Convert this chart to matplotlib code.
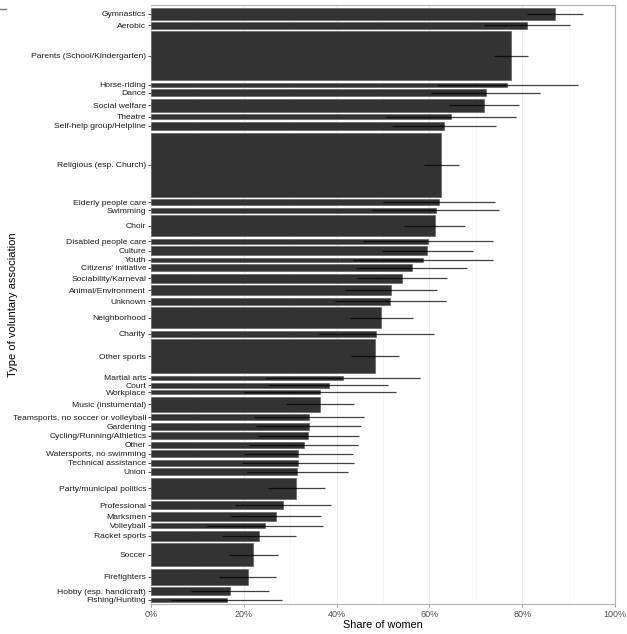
import numpy as np
import matplotlib
matplotlib.use('Agg')
import matplotlib.pyplot as plt
from matplotlib.lines import Line2D
from matplotlib.ticker import MultipleLocator, FuncFormatter

plt.rcParams['font.family'] = ['Liberation Sans', 'DejaVu Sans']

# categories from top to bottom
categories = [
    'Gymnastics', 'Aerobic', 'Parents (School/Kindergarten)', 'Horse-riding', 'Dance',
    'Social welfare', 'Theatre', 'Self-help group/Helpline', 'Religious (esp. Church)',
    'Elderly people care', 'Swimming', 'Choir', 'Disabled people care', 'Culture', 'Youth',
    "Citizens' initiative", 'Sociability/Karneval', 'Animal/Environment', 'Unknown',
    'Neighborhood', 'Charity', 'Other sports', 'Martial arts', 'Court', 'Workplace',
    'Music (instumental)', 'Teamsports, no soccer or volleyball', 'Gardening',
    'Cycling/Running/Athletics', 'Other', 'Watersports, no swimming', 'Technical assistance',
    'Union', 'Party/municipal politics', 'Professional', 'Marksmen', 'Volleyball',
    'Racket sports', 'Soccer', 'Firefighters', 'Hobby (esp. handicraft)', 'Fishing/Hunting',
]
# share of women (%)
share = [87.1, 81.0, 77.6, 76.8, 72.1, 71.8, 64.6, 63.1, 62.6, 62.0, 61.4, 61.1, 59.7, 59.5,
         58.6, 56.2, 54.2, 51.7, 51.6, 49.6, 48.5, 48.2, 41.3, 38.3, 36.4, 36.4, 34.1, 34.0,
         33.9, 32.9, 31.7, 31.7, 31.5, 31.3, 28.5, 26.9, 24.6, 23.3, 22.0, 20.8, 17.0, 16.3]
ci_low = [81.0, 71.7, 73.9, 61.6, 60.3, 64.3, 50.6, 52.0, 58.8, 50.1, 47.6, 54.5, 45.7, 49.7,
          43.5, 44.2, 44.4, 41.8, 39.7, 42.9, 36.1, 43.1, 24.6, 25.5, 20.1, 29.0, 22.3, 22.7,
          23.0, 21.1, 20.1, 19.7, 20.7, 25.2, 18.2, 17.3, 12.1, 15.3, 16.8, 14.7, 8.6, 4.4]
ci_high = [93.0, 90.4, 81.3, 92.0, 83.8, 79.4, 78.6, 74.3, 66.3, 74.1, 75.0, 67.6, 73.7, 69.3,
           73.8, 68.1, 63.9, 61.6, 63.5, 56.4, 60.9, 53.4, 57.9, 51.1, 52.9, 43.8, 45.8, 45.2,
           44.9, 44.6, 43.5, 43.8, 42.4, 37.6, 38.7, 36.6, 37.1, 31.2, 27.4, 26.9, 25.4, 28.2]
# number of members (bar thickness)
members = [116, 66, 490, 40, 70, 130, 50, 80, 640, 60, 50, 210, 50, 90, 40, 70, 90, 100, 70,
           210, 60, 340, 40, 50, 40, 150, 60, 70, 70, 60, 70, 60, 70, 210, 80, 90, 50, 100,
           230, 160, 80, 40]

gap = 25
thick = np.array(members, dtype=float)
slot = thick + gap
tops = np.concatenate([[0], np.cumsum(slot)[:-1]])
centers = tops + slot / 2
total = slot.sum()

fig = plt.figure(figsize=(6.27, 6.34), dpi=100)
ax = fig.add_axes([151 / 627, 1 - 604 / 634, 464 / 627, 599 / 634])

ax.xaxis.set_major_locator(MultipleLocator(20))
ax.xaxis.set_minor_locator(MultipleLocator(10))
ax.grid(which='major', axis='x', color='#ebebeb', lw=0.8)
ax.grid(which='minor', axis='x', color='#f4f4f4', lw=0.5)
ax.set_axisbelow(True)

ax.barh(centers, share, height=thick, color='#333333', edgecolor='#555555', lw=0.4)
ax.hlines(centers, ci_low, ci_high, color='black', lw=0.9, alpha=0.75)

ax.set_xlim(0, 100)
ax.set_ylim(total + 8, -18)
ax.set_yticks(centers)
ax.set_yticklabels(categories)
ax.xaxis.set_major_formatter(FuncFormatter(lambda v, p: '{:.0f}%'.format(v)))

for s in ['top', 'right', 'left', 'bottom']:
    ax.spines[s].set_color('#b3b3b3')
    ax.spines[s].set_linewidth(0.8)
ax.spines['left'].set_visible(False)

ax.tick_params(axis='y', length=2.5, width=0.6, color='#333333', labelsize=6.1, pad=1,
               labelcolor='#1a1a1a')
ax.tick_params(axis='x', which='major', length=2.5, width=0.6, color='#888888', labelsize=6.5,
               labelcolor='#4d4d4d', pad=1.5)
ax.tick_params(axis='x', which='minor', length=0)

ax.set_xlabel('Share of women', fontsize=7.8, labelpad=1)
ax.set_ylabel('Type of voluntary association', fontsize=8)
ax.yaxis.set_label_coords(-0.287, 0.5)

fig.add_artist(Line2D([0, 6 / 627], [1 - 9 / 634, 1 - 9 / 634], color='#777777', lw=1))

fig.savefig('out.png', dpi=100)
